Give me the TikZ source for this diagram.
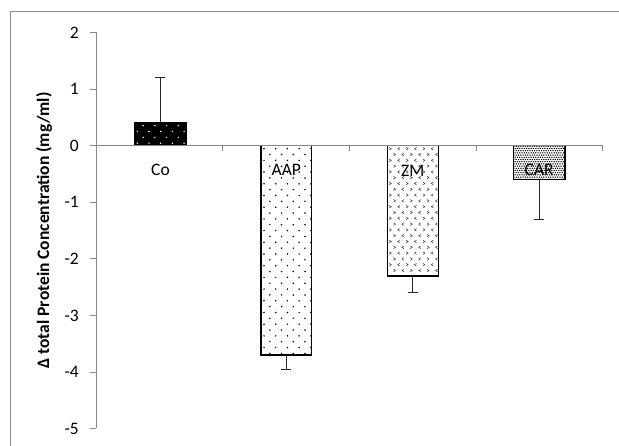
\documentclass[tikz,border=0pt]{standalone}
\usepackage{fontspec}
\setmainfont{Carlito}
\definecolor{axisgray}{RGB}{134,134,134}
\definecolor{framegray}{RGB}{140,140,140}
\begin{document}
\begin{tikzpicture}[x=1pt,y=-1pt,
  axisline/.style={draw=axisgray,line width=1pt},
  frameline/.style={draw=framegray,line width=0.8pt},
  barline/.style={draw=black,line width=1.3pt},
  errline/.style={draw=black!85,line width=1.2pt},
  ticklab/.style={anchor=east,font=\fontsize{17.5}{17.5}\selectfont,inner sep=0pt},
  catlab/.style={anchor=center,font=\fontsize{17.5}{17.5}\selectfont,inner sep=0pt}]
\useasboundingbox (0,0) rectangle (619,446);
% outer frame (cropped)
\draw[frameline] (10,446) -- (10,11) -- (619,11);

% ---------- bars ----------
% Co : black with white dots
\fill[black] (134.3,145.7) rectangle (186,{145.7-56.6*0.4});
\begin{scope}
\clip (134.3,145.7) rectangle (186,{145.7-56.6*0.4});
\foreach \r in {0,...,4}{
  \foreach \c in {0,...,5}{
    \fill[white] ({134.3+3+\c*11.7+mod(\r,2)*5.85},{145.7-2.5-\r*5.85}) circle (0.8);
  }}
\end{scope}
\draw[barline] (134.3,145.7) rectangle (186,{145.7-56.6*0.4});

% AAP : white with black dots
\fill[white] (261,145.7) rectangle (311.7,{145.7+56.6*3.7});
\begin{scope}
\clip (261,145.7) rectangle (311.7,{145.7+56.6*3.7});
\foreach \r in {0,...,37}{
  \foreach \c in {0,...,5}{
    \fill[black] ({261+3+\c*11.7+mod(\r,2)*5.85},{145.7+3+\r*5.85}) circle (0.85);
  }}
\end{scope}
\draw[barline] (261,145.7) rectangle (311.7,{145.7+56.6*3.7});

% ZM : white with small chevrons
\begin{scope}
\clip (387.3,145.7) rectangle (438.3,{145.7+56.6*2.3});
\foreach \r in {0,...,23}{
  \foreach \c in {0,...,6}{
    \pgfmathsetmacro{\px}{387.3+3+\c*8.4+mod(\r,2)*4.2}
    \pgfmathsetmacro{\py}{145.7+3+\r*5.8}
    \ifodd\c
      \draw[black!75,line width=0.55pt] ({\px+1},{\py-1.3}) -- ({\px-1},\py) -- ({\px+1},{\py+1.3});
    \else
      \draw[black!75,line width=0.55pt] ({\px-1},{\py-1.3}) -- ({\px+1},\py) -- ({\px-1},{\py+1.3});
    \fi
  }}
\end{scope}
\draw[barline] (387.3,145.7) rectangle (438.3,{145.7+56.6*2.3});

% CAR : dense dots
\begin{scope}
\clip (513.3,145.7) rectangle (565,{145.7+56.6*0.6});
\foreach \r in {0,...,15}{
  \foreach \c in {0,...,23}{
    \fill[black] ({513.3+0.6+\c*2.3+mod(\r,2)*1.15},{145.7+0.6+\r*2.2}) circle (0.75);
  }}
\end{scope}
\draw[barline] (513.3,145.7) rectangle (565,{145.7+56.6*0.6});

% ---------- error bars ----------
\draw[errline] (160.1,{145.7-56.6*0.4}) -- (160.1,{145.7-56.6*1.21});
\draw[errline] (155,{145.7-56.6*1.21}) -- (165.2,{145.7-56.6*1.21});
\draw[errline] (286.3,{145.7+56.6*3.7}) -- (286.3,{145.7+56.6*3.95});
\draw[errline] (281.2,{145.7+56.6*3.95}) -- (291.4,{145.7+56.6*3.95});
\draw[errline] (412.8,{145.7+56.6*2.3}) -- (412.8,{145.7+56.6*2.6});
\draw[errline] (407.7,{145.7+56.6*2.6}) -- (417.9,{145.7+56.6*2.6});
\draw[errline] (539.2,{145.7+56.6*0.6}) -- (539.2,{145.7+56.6*1.3});
\draw[errline] (534.1,{145.7+56.6*1.3}) -- (544.3,{145.7+56.6*1.3});

% ---------- axes ----------
\draw[axisline] (96,32.5) -- (96,428.3);
\foreach \v/\nm in {2/p2,1/p1,0/z0,-1/m1,-2/m2,-3/m3,-4/m4,-5/m5}{
  \draw[axisline] (90,{145.7-56.6*\v}) -- (96,{145.7-56.6*\v});
  \node[ticklab] (t\nm) at (79,{145.7-56.6*\v}) {\v};
}
\draw[axisline] (96,145.7) -- (602.7,145.7);
\foreach \xx in {222.6,349.3,476,602.7}{
  \draw[axisline] (\xx,145.7) -- (\xx,151.5);
}

% ---------- labels ----------
\node[catlab] (lco) at (160.5,170) {Co};
\node[catlab] (laap) at (286.3,170) {AAP};
\node[catlab] (lzm) at (412.8,170.5) {ZM};
\node[catlab] (lcar) at (539.2,170) {CAR};

\node[rotate=90,anchor=center,inner sep=0pt,font=\fontsize{17.5}{17.5}\selectfont\bfseries] (ytitle) at (44,230.5) {Δ total Protein Concentration (mg/ml)};
\end{tikzpicture}
\end{document}
